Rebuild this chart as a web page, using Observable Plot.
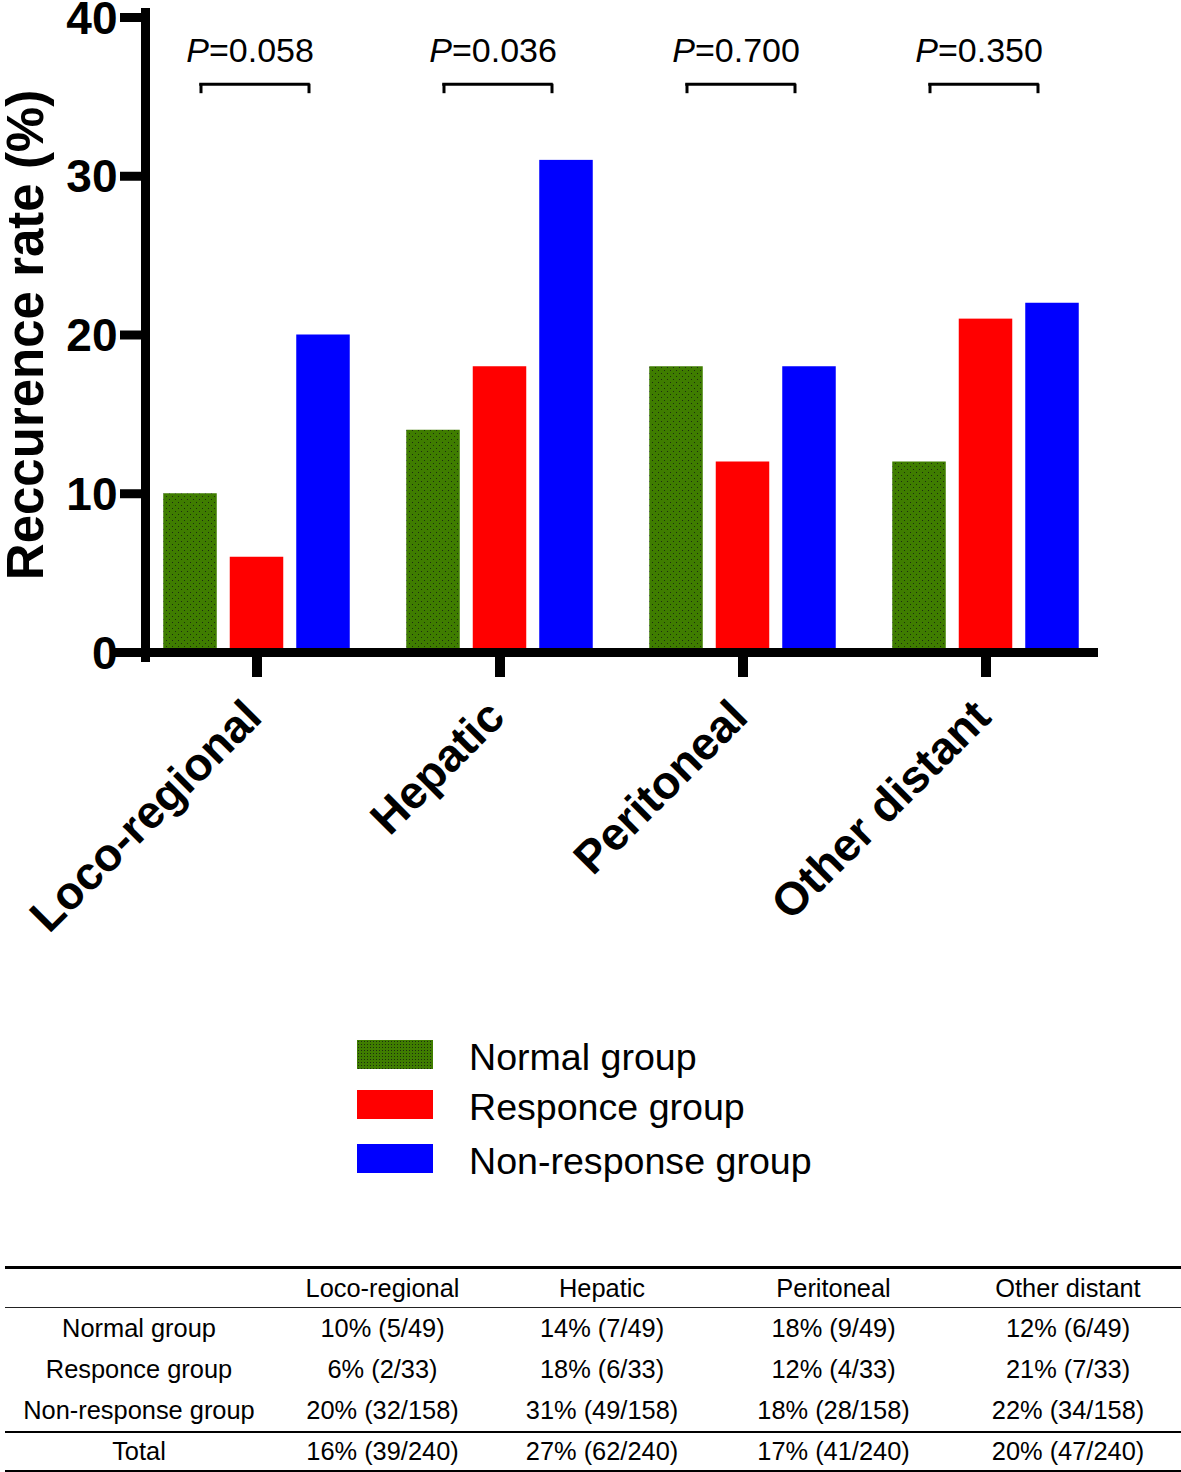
<!DOCTYPE html>
<html>
<head>
<meta charset="utf-8">
<script src="https://cdn.jsdelivr.net/npm/d3@7"></script>
<script src="https://cdn.jsdelivr.net/npm/@observablehq/plot@0.6"></script>
<style>
  html, body { margin: 0; padding: 0; background: #fff; }
  body { font-family: "Liberation Sans", Arial, Helvetica, sans-serif; width: 1181px; height: 1472px; position: relative; overflow: hidden; }
  #chart { position: absolute; left: 0; top: 0; }
  #legend { position: absolute; left: 357px; top: 1040px; }
  .lg-row { display: flex; align-items: center; height: 29px; }
  .lg-sw { width: 76px; height: 29px; flex: none; }
  .lg-tx { margin-left: 36px; font-size: 37.6px; line-height: 29px; position: relative; top: 3px; white-space: nowrap; color: #000; }
  #tbl { position: absolute; left: 5px; top: 1266px; width: 1176px; border-collapse: separate; border-spacing: 0; font-size: 25.4px; table-layout: fixed; }
  #tbl td, #tbl th { padding: 0; text-align: center; font-weight: normal; white-space: nowrap; height: 41px; color: #000; }
  #tbl thead th { border-top: 3px solid #000; border-bottom: 1.5px solid #222; height: 38px; }
  #tbl tr.pre-total td { border-bottom: 2px solid #000; }
  #tbl tr.total td { border-bottom: 3px solid #000; height: 37px; }
</style>
</head>
<body>
<div id="chart"></div>
<div id="legend"></div>
<table id="tbl"></table>
<script>
// ---------- data ----------
const categories = ["Loco-regional", "Hepatic", "Peritoneal", "Other distant"];
const groups = ["Normal group", "Responce group", "Non-response group"];
const groupColors = ["#3f7d00", "#ff0000", "#0000ff"];
const normalValues = [10, 14, 18, 12];
const responceValues = [6, 18, 12, 21];
const nonResponseValues = [20, 31, 18, 22];
const pValues = ["0.058", "0.036", "0.700", "0.350"];
const yTicks = [0, 10, 20, 30, 40];
const yLabel = "Reccurence rate (%)";

// table values
const normalCounts = ["5/49", "7/49", "9/49", "6/49"];
const responceCounts = ["2/33", "6/33", "4/33", "7/33"];
const nonResponseCounts = ["32/158", "49/158", "28/158", "34/158"];
const totalValues = [16, 27, 17, 20];
const totalCounts = ["39/240", "62/240", "41/240", "47/240"];

// ---------- layout constants ----------
const FONT = '"Liberation Sans", Arial, Helvetica, sans-serif';
const bandwidth = 243.5;
const barWidth = 54;
const barGap = 12.5;
const outer = (bandwidth - 3 * barWidth - 2 * barGap) / 2;
const pTextY = 37.9;      // annotation heights in data units
const bracketY = 35.8;
const bracketLegY = 35.2;

const seriesValues = [normalValues, responceValues, nonResponseValues];
const barMarks = groups.map((g, gi) => {
  const rows = categories.map((c, ci) => ({category: c, group: g, value: seriesValues[gi][ci]}));
  const left = outer + gi * (barWidth + barGap);
  const right = bandwidth - left - barWidth;
  return Plot.barY(rows, {x: "category", y: "value", fill: groupColors[gi], insetLeft: left, insetRight: right});
});

const pRows = categories.map((c, i) => ({category: c, p: pValues[i]}));

const chart = Plot.plot({
  width: 1181,
  height: 960,
  marginLeft: 145,
  marginRight: 83,
  marginTop: 17,
  marginBottom: 308,
  style: {fontFamily: FONT, background: "white", overflow: "visible", color: "#000"},
  x: {domain: categories, range: [133.75, 1107.75], padding: 0},
  y: {domain: [0, 40]},
  marks: [
    ...barMarks,
    Plot.frame({anchor: "left", strokeWidth: 9, insetTop: -5, insetBottom: -5}),
    Plot.ruleY([0], {strokeWidth: 9, insetLeft: -33}),
    Plot.axisY({ticks: yTicks, tickSize: 25, tickPadding: 3, strokeWidth: 9, tickFormat: () => "", label: null}),
    Plot.text(yTicks, {y: d => d, frameAnchor: "left", textAnchor: "end", dx: -28, dy: 1.5, fontSize: 46, fontWeight: "bold"}),
    Plot.axisX({tickSize: 25, strokeWidth: 10, tickFormat: () => "", label: null}),
    Plot.text(categories, {x: d => d, frameAnchor: "bottom", rotate: -45, textAnchor: "end", fontSize: 46, fontWeight: "bold", dx: 7, dy: 67}),
    Plot.text([yLabel], {frameAnchor: "left", textAnchor: "middle", rotate: -90, dx: -119, fontSize: 51, fontWeight: "bold"}),
    // P-value annotations
    Plot.text(pRows, {x: "category", y: pTextY, text: () => "P", fontStyle: "italic", textAnchor: "end", fontSize: 34, dx: -48}),
    Plot.text(pRows, {x: "category", y: pTextY, text: d => "=" + d.p, textAnchor: "start", fontSize: 34, dx: -48}),
    Plot.tickY(pRows, {x: "category", y: bracketY, insetLeft: 64.25, insetRight: 68.25, strokeWidth: 3}),
    Plot.ruleX(pRows, {x: "category", y1: bracketLegY, y2: bracketY, dx: -56, strokeWidth: 3}),
    Plot.ruleX(pRows, {x: "category", y1: bracketLegY, y2: bracketY, dx: 52, strokeWidth: 3})
  ]
});

// dotted texture for the green bars
const svgNS = "http://www.w3.org/2000/svg";
const defs = document.createElementNS(svgNS, "defs");
const pat = document.createElementNS(svgNS, "pattern");
pat.setAttribute("id", "greenDots");
pat.setAttribute("width", 6); pat.setAttribute("height", 6);
pat.setAttribute("patternUnits", "userSpaceOnUse");
const base = document.createElementNS(svgNS, "rect");
base.setAttribute("width", 6); base.setAttribute("height", 6); base.setAttribute("fill", groupColors[0]);
pat.appendChild(base);
[[1, 1], [4, 4]].forEach(([x, y]) => {
  const d = document.createElementNS(svgNS, "rect");
  d.setAttribute("x", x); d.setAttribute("y", y); d.setAttribute("width", 1); d.setAttribute("height", 1);
  d.setAttribute("fill", "#1c2c10");
  pat.appendChild(d);
});
defs.appendChild(pat);
chart.insertBefore(defs, chart.firstChild);
chart.querySelectorAll(`[fill="${groupColors[0]}"]`).forEach(el => { if (el.closest("pattern") == null) el.setAttribute("fill", "url(#greenDots)"); });

document.getElementById("chart").appendChild(chart);

// ---------- legend ----------
const legend = document.getElementById("legend");
const legendGaps = [21, 25];
groups.forEach((g, i) => {
  const row = document.createElement("div");
  row.className = "lg-row";
  if (i < groups.length - 1) row.style.marginBottom = legendGaps[i] + "px";
  const sw = document.createElement("div");
  sw.className = "lg-sw";
  sw.style.background = i === 0
    ? `radial-gradient(circle, #1c2c10 0.6px, transparent 0.8px) 0 0 / 3px 3px, ${groupColors[0]}`
    : groupColors[i];
  const tx = document.createElement("div");
  tx.className = "lg-tx";
  tx.textContent = g;
  row.appendChild(sw); row.appendChild(tx);
  legend.appendChild(row);
});

// ---------- table ----------
const tbl = document.getElementById("tbl");
const colWidths = [268, 219, 220, 243, 226];
const colgroup = document.createElement("colgroup");
colWidths.forEach(w => { const c = document.createElement("col"); c.style.width = w + "px"; colgroup.appendChild(c); });
tbl.appendChild(colgroup);
const thead = document.createElement("thead");
const hr = document.createElement("tr");
["", ...categories].forEach(t => { const th = document.createElement("th"); th.textContent = t; hr.appendChild(th); });
thead.appendChild(hr);
tbl.appendChild(thead);
const tbody = document.createElement("tbody");
const tableRows = [
  [groups[0], normalValues, normalCounts, ""],
  [groups[1], responceValues, responceCounts, ""],
  [groups[2], nonResponseValues, nonResponseCounts, "pre-total"],
  ["Total", totalValues, totalCounts, "total"]
];
tableRows.forEach(([name, vals, counts, cls]) => {
  const tr = document.createElement("tr");
  if (cls) tr.className = cls;
  const td0 = document.createElement("td"); td0.textContent = name; tr.appendChild(td0);
  vals.forEach((v, i) => {
    const td = document.createElement("td");
    td.textContent = `${v}% (${counts[i]})`;
    tr.appendChild(td);
  });
  tbody.appendChild(tr);
});
tbl.appendChild(tbody);
</script>
</body>
</html>
